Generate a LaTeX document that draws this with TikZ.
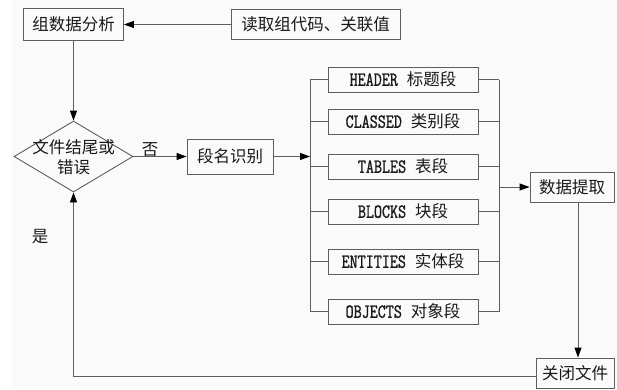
\documentclass[tikz,border=0pt]{standalone}
\usepackage{fontspec}
\newfontfamily\cjk{Noto Sans CJK SC}
\newfontfamily\latf{Latin Modern Mono}[FakeStretch=0.78,FakeBold=1.2]
\newcommand\latw[1]{{\latf\fontsize{20}{20}\selectfont #1}}
\usetikzlibrary{arrows.meta,shapes.geometric,calc}
\definecolor{ln}{HTML}{5E5E5E}
\definecolor{bg}{HTML}{FAFAFA}
\tikzset{
  txt/.style={font=\cjk\fontsize{16.5}{20}\selectfont, text=black!90, inner sep=0pt},
  box/.style={txt, draw=ln, line width=0.9pt},
  seg/.style={box, minimum width=150pt, minimum height=25pt},
  cn/.style={draw=ln, line width=0.9pt},
  arr/.style={cn, -{Triangle[length=10pt,width=7pt,color=black]}},
}
\begin{document}
\begin{tikzpicture}[x=1pt,y=-1pt]
\useasboundingbox (0,0) rectangle (617,389);
\fill[white] (0,0) rectangle (617,389);
\fill[bg] (12,0) rectangle (617,387);

\node[box, minimum width=100pt, minimum height=32pt] (zsj) at (73.5,24.5) {组数据分析};
\node[box, minimum width=169pt, minimum height=30pt] (dq) at (315.5,24.5) {读取组代码、关联值};
\node[draw=ln, line width=0.9pt, diamond, minimum width=119pt, minimum height=71pt, inner sep=0pt] (d) at (73.5,156.5) {};
\node[txt, align=center] (dt) at (73.5,157) {文件结尾或\\错误};
\node[txt] (no) at (150,150) {否};
\node[txt] (yes) at (40,237) {是};
\node[box, minimum width=86pt, minimum height=35pt] (dm) at (230,156.5) {段名识别};

\node[seg] (s1) at (403,79.5) {\latw{HEADER}\hspace{9pt}标题段};
\node[seg] (s2) at (403,121.5) {\latw{CLASSED}\hspace{9pt}类别段};
\node[seg] (s3) at (403,166.5) {\latw{TABLES}\hspace{9pt}表段};
\node[seg] (s4) at (403,211.5) {\latw{BLOCKS}\hspace{9pt}块段};
\node[seg] (s5) at (403,261.5) {\latw{ENTITIES}\hspace{9pt}实体段};
\node[seg] (s6) at (403,311.5) {\latw{OBJECTS}\hspace{9pt}对象段};

\node[box, minimum width=84pt, minimum height=30pt] (sj) at (572,187) {数据提取};
\node[box, minimum width=78pt, minimum height=30pt] (gb) at (575,373) {关闭文件};

\coordinate (bl) at (310,0);
\coordinate (br) at (499,0);
\coordinate (ax) at (578,0);
\coordinate (lp) at ($(gb.west)+(0,3)$);

\draw[arr] (dq.west) -- (zsj.east);
\draw[arr] (zsj.south) -- (d.north);
\draw[arr] (d.east) -- (dm.west);
\draw[arr] (dm.east) -- (dm.east -| bl);
\draw[cn] (s1.west -| bl) -- (s6.west -| bl);
\draw[cn] (s1.east -| br) -- (s6.east -| br);
\foreach \s in {s1,s2,s3,s4,s5,s6}{
  \draw[cn] (\s.west -| bl) -- (\s.west);
  \draw[cn] (\s.east) -- (\s.east -| br);
}
\draw[arr] (sj.west -| br) -- (sj.west);
\draw[arr] (sj.south -| ax) -- (gb.north -| ax);
\draw[arr] (lp) -- (lp -| d.south) -- (d.south);
\end{tikzpicture}
\end{document}
